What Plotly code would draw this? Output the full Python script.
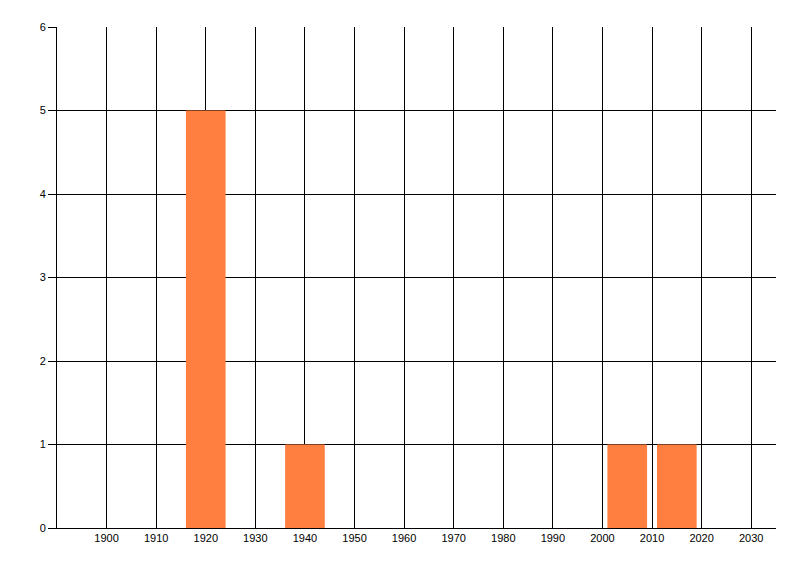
import plotly.graph_objects as go

years = [1920, 1940, 2005, 2015]
counts = [5, 1, 1, 1]
x_ticks = list(range(1900, 2031, 10))
y_ticks = [0, 1, 2, 3, 4, 5, 6]

fig = go.Figure()
fig.add_trace(go.Bar(
    x=years, y=counts, width=8,
    marker=dict(color="#FF7F40", line=dict(width=0)),
    hoverinfo="x+y",
))

font = dict(family="Liberation Sans, DejaVu Sans, sans-serif", size=11, color="black")

# page body has an 8px margin, so the figure is drawn at (8, 8)
fig.update_layout(
    width=792, height=568,
    margin=dict(l=49, r=24, t=19, b=48),
    paper_bgcolor="white", plot_bgcolor="white",
    showlegend=False,
    font=font,
    xaxis=dict(
        range=[1890, 2035], tickvals=x_ticks, ticktext=[str(v) for v in x_ticks],
        showgrid=True, gridcolor="black", gridwidth=1,
        zeroline=False, showline=True, linecolor="black", linewidth=1,
        ticks="", tickfont=font,
    ),
    yaxis=dict(
        range=[0, 6], tickvals=y_ticks,
        showgrid=True, gridcolor="black", gridwidth=1,
        zeroline=False, showline=True, linecolor="black", linewidth=1,
        ticks="outside", ticklen=8, tickcolor="black", tickwidth=1,
        tickfont=font,
    ),
)

fig.write_html("out.html")
